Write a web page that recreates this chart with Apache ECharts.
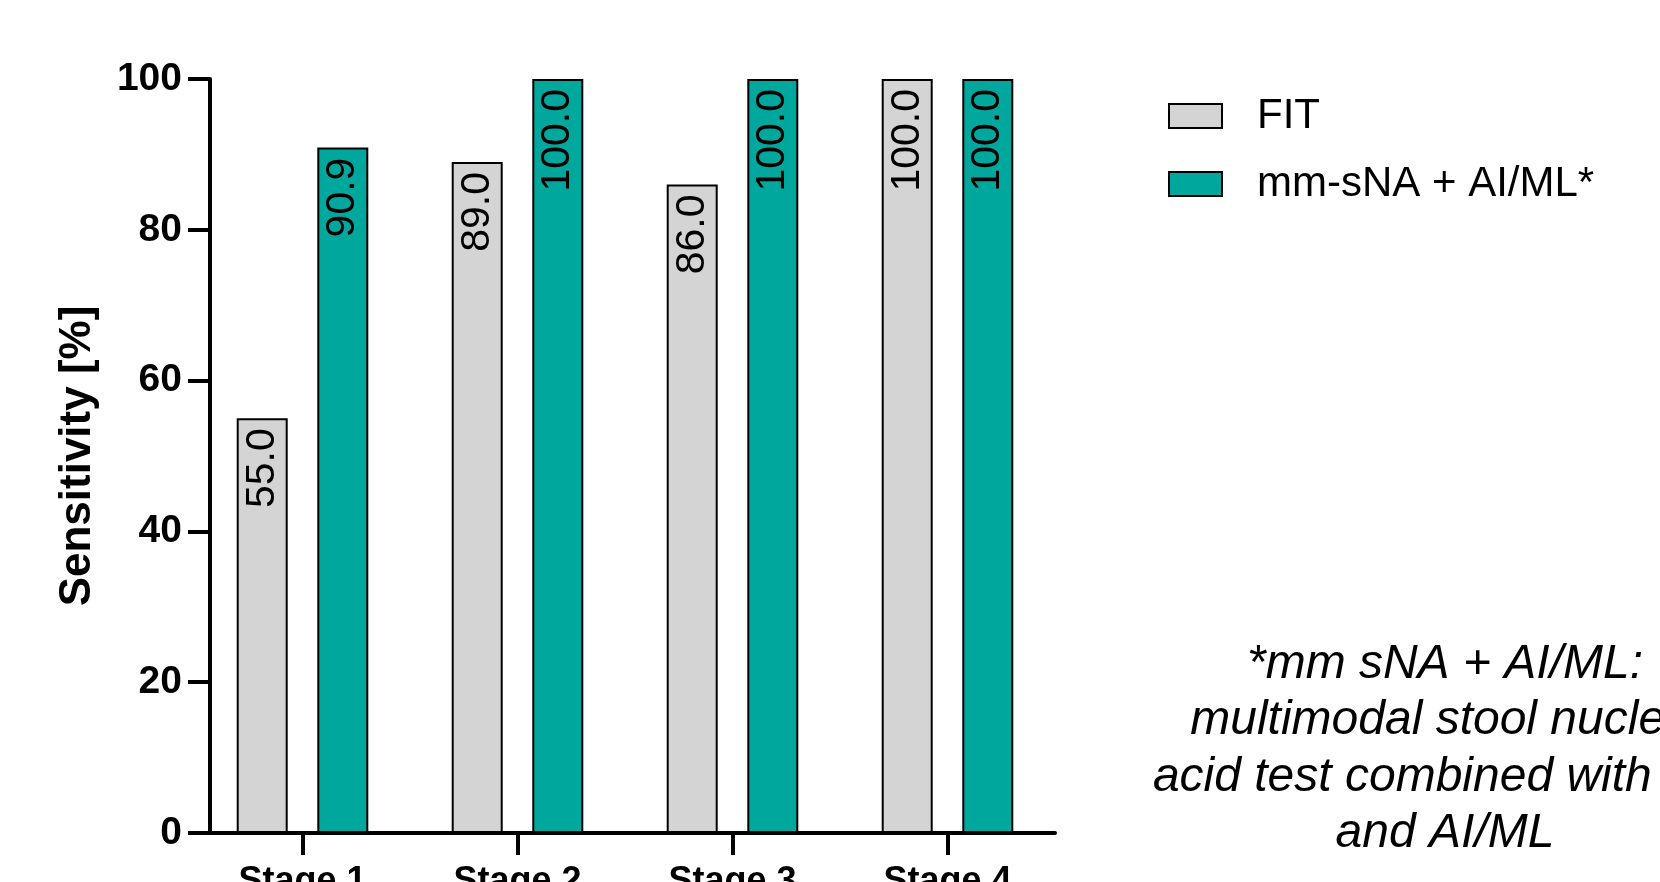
<!DOCTYPE html>
<html>
<head>
<meta charset="utf-8">
<script src="https://cdn.jsdelivr.net/npm/echarts@6/dist/echarts.min.js"></script>
<style>
html,body{margin:0;padding:0;background:#fff;}
#chart{width:1660px;height:882px;}
</style>
</head>
<body>
<div id="chart"></div>
<script>
const categories = ['Stage 1', 'Stage 2', 'Stage 3', 'Stage 4'];
const fitValues = [55.0, 89.0, 86.0, 100.0];
const mmValues = [90.9, 100.0, 100.0, 100.0];
const seriesNames = ['FIT', 'mm-sNA + AI/ML*'];
const yTicks = [0, 20, 40, 60, 80, 100];
const yTitle = 'Sensitivity [%]';
const noteLines = ['*mm sNA + AI/ML:', 'multimodal stool nucleic', 'acid test combined with FIT', 'and AI/ML'];

const FONT = '"Liberation Sans", Arial, Helvetica, sans-serif';
const chart = echarts.init(document.getElementById('chart'), null, {renderer: 'canvas'});

const barLabel = {
  show: true,
  position: 'insideTop',
  distance: 10,
  rotate: 90,
  align: 'right',
  verticalAlign: 'middle',
  color: '#000',
  fontFamily: FONT,
  fontSize: 41,
  formatter: p => p.value.toFixed(1)
};

chart.setOption({
  animation: false,
  backgroundColor: '#ffffff',
  grid: {left: 195, width: 860, top: 79, bottom: 49, containLabel: false, outerBoundsMode: 'none'},
  legend: {
    orient: 'vertical',
    left: 1163,
    top: 90,
    itemWidth: 53,
    itemHeight: 24,
    itemGap: 26,
    icon: 'rect',
    textStyle: {fontFamily: FONT, fontSize: 42, color: '#000', padding: [0, 0, 0, 30]},
    data: seriesNames
  },
  xAxis: {
    type: 'category',
    data: categories,
    axisLine: {lineStyle: {color: '#000', width: 4}},
    axisTick: {show: true, alignWithLabel: true, length: 22, lineStyle: {color: '#000', width: 4}},
    axisLabel: {color: '#000', fontFamily: FONT, fontWeight: 'bold', fontSize: 36, margin: 31}
  },
  yAxis: {
    type: 'value',
    min: yTicks[0],
    max: yTicks[yTicks.length - 1],
    interval: yTicks[1] - yTicks[0],
    offset: -15,
    name: yTitle,
    nameLocation: 'middle',
    nameGap: 110,
    nameRotate: 90,
    nameTextStyle: {color: '#000', fontFamily: FONT, fontWeight: 'bold', fontSize: 44},
    splitLine: {show: false},
    axisLine: {show: true, lineStyle: {color: '#000', width: 4}},
    axisTick: {show: true, length: 22, lineStyle: {color: '#000', width: 4}},
    axisLabel: {color: '#000', fontFamily: FONT, fontWeight: 'bold', fontSize: 39, margin: 28}
  },
  series: [
    {
      name: seriesNames[0],
      type: 'bar',
      data: fitValues,
      barWidth: 51,
      barGap: '58%',
      itemStyle: {color: '#d4d4d4', borderColor: '#000', borderWidth: 2},
      label: barLabel
    },
    {
      name: seriesNames[1],
      type: 'bar',
      data: mmValues,
      barWidth: 51,
      itemStyle: {color: '#00a79d', borderColor: '#000', borderWidth: 2},
      label: barLabel
    }
  ],
  graphic: [{
    type: 'text',
    x: 1445,
    y: 636,
    style: {
      text: noteLines.join('\n'),
      font: 'italic 48px ' + FONT,
      fill: '#000',
      textAlign: 'center',
      textVerticalAlign: 'top',
      lineHeight: 56.5
    }
  }]
});
</script>
</body>
</html>
